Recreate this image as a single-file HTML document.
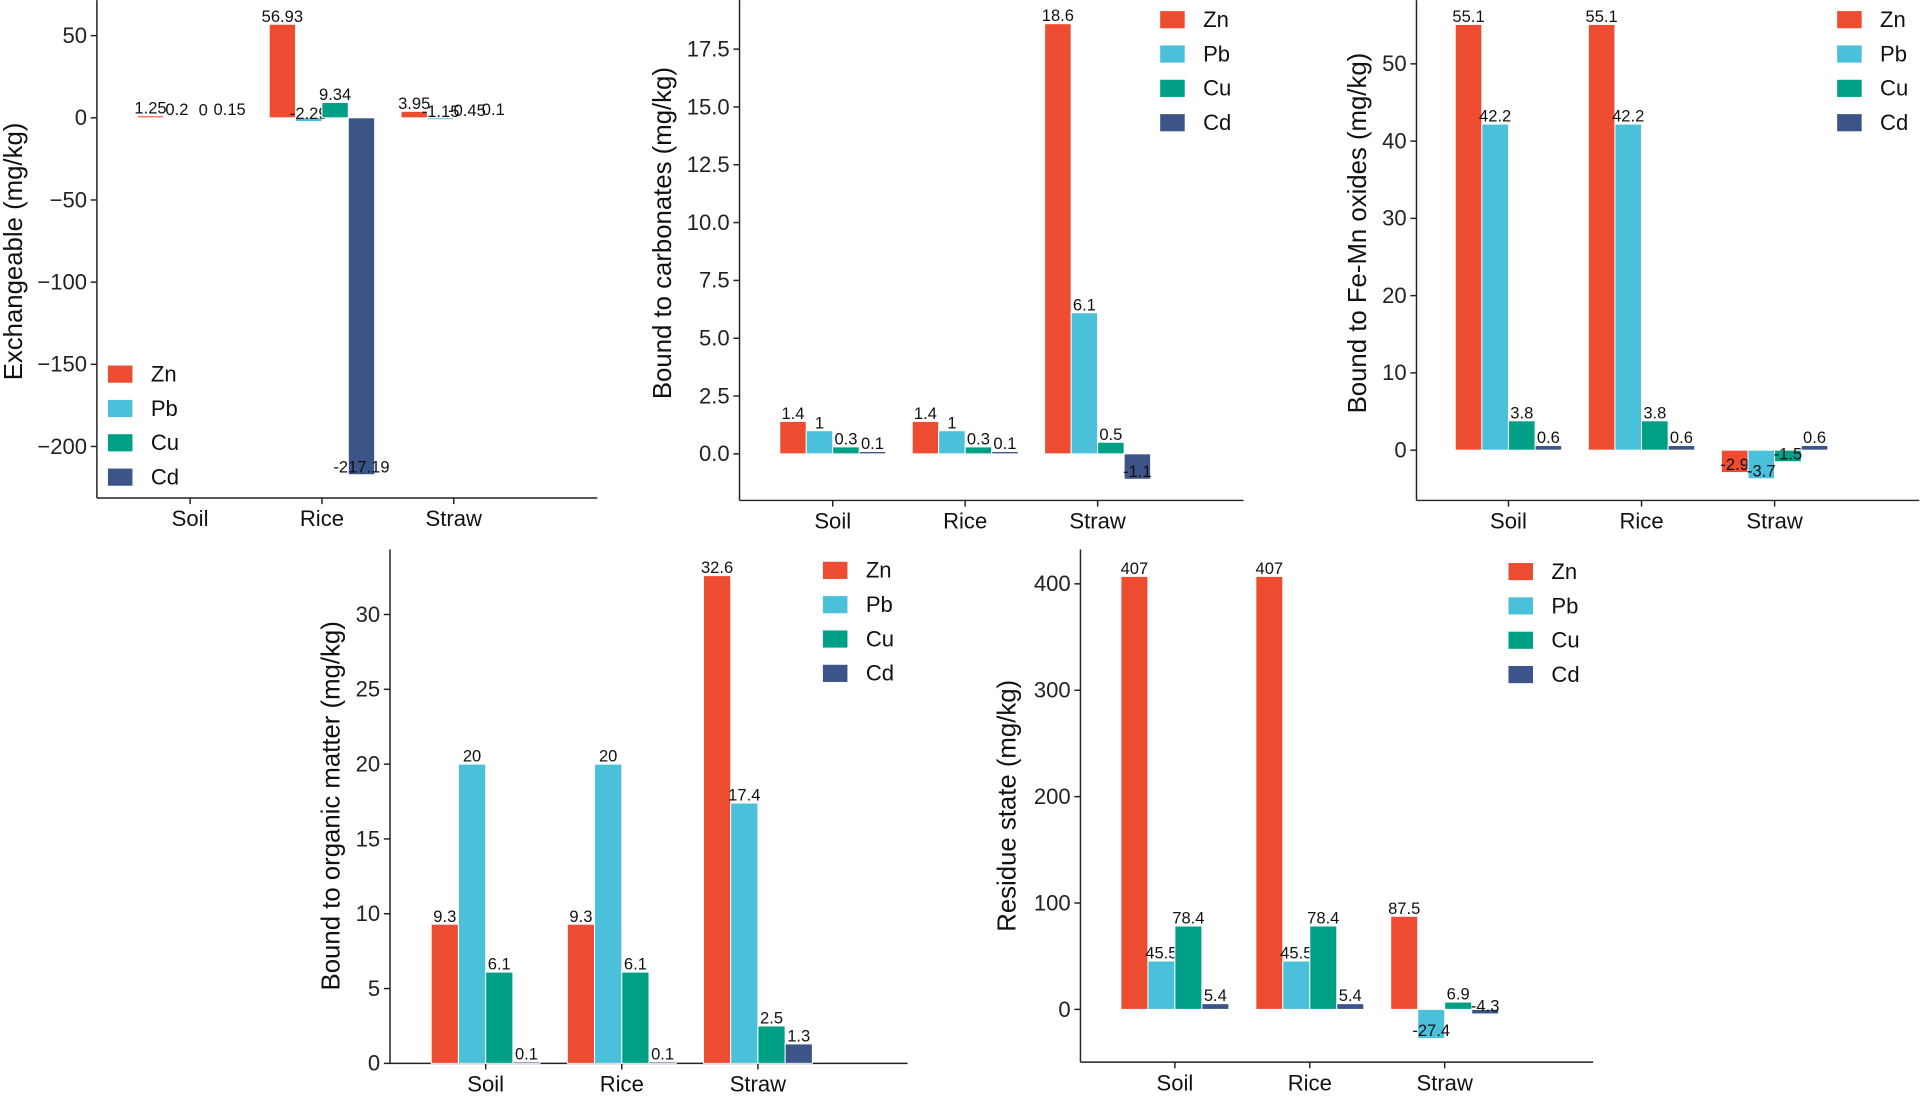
<!DOCTYPE html>
<html><head><meta charset="utf-8"><style>
html,body{margin:0;padding:0;background:#fff;}
svg{display:block;font-family:"Liberation Sans",Arial,sans-serif;}
</style></head>
<body>
<svg id="chart" width="1923" height="1099" viewBox="0 0 1568 896" xmlns="http://www.w3.org/2000/svg"></svg>
<script>
const categories = ["Soil", "Rice", "Straw"];
const seriesNames = ["Zn", "Pb", "Cu", "Cd"];
const colors = ["#EE4C30", "#4BC0DA", "#00A087", "#3C5488"];

// Panel A: Exchangeable
const exZn = [1.25, 56.93, 3.95];
const exPb = [0.2, -2.29, -1.15];
const exCu = [0, 9.34, -0.45];
const exCd = [0.15, -217.19, 0.1];
const exTicks = [50, 0, -50, -100, -150, -200];

// Panel B: Bound to carbonates
const caZn = [1.4, 1.4, 18.6];
const caPb = [1, 1, 6.1];
const caCu = [0.3, 0.3, 0.5];
const caCd = [0.1, 0.1, -1.1];
const caTicks = ["0.0", "2.5", "5.0", "7.5", "10.0", "12.5", "15.0", "17.5"];

// Panel C: Bound to Fe-Mn oxides
const feZn = [55.1, 55.1, -2.9];
const fePb = [42.2, 42.2, -3.7];
const feCu = [3.8, 3.8, -1.5];
const feCd = [0.6, 0.6, 0.6];
const feTicks = [0, 10, 20, 30, 40, 50];

// Panel D: Bound to organic matter
const omZn = [9.3, 9.3, 32.6];
const omPb = [20, 20, 17.4];
const omCu = [6.1, 6.1, 2.5];
const omCd = [0.1, 0.1, 1.3];
const omTicks = [0, 5, 10, 15, 20, 25, 30];

// Panel E: Residue state
const reZn = [407, 407, 87.5];
const rePb = [45.5, 45.5, -27.4];
const reCu = [78.4, 78.4, 6.9];
const reCd = [5.4, 5.4, -4.3];
const reTicks = [0, 100, 200, 300, 400];

const NS = "http://www.w3.org/2000/svg";
const svg = document.getElementById("chart");
function mk(tag, attrs, parent) {
  const e = document.createElementNS(NS, tag);
  for (const k in attrs) e.setAttribute(k, attrs[k]);
  (parent || svg).appendChild(e);
  return e;
}

function panel(cfg) {
  const g = mk("g", {});
  
  
  const k = (cfg.y0px - cfg.y1px) / (cfg.v1 - cfg.v0);
  const y = v => cfg.y0px - (v - cfg.v0) * k;
  const x = i => cfg.cat0 + i * cfg.step;
  const bw = cfg.step * 0.8 / 4;
  const ya = mk("line", {x1: cfg.ax, y1: cfg.top, x2: cfg.ax, y2: cfg.bottom, stroke: "#222", "stroke-width": 1.2}, g);
  
  
  const xa = mk("line", {x1: cfg.ax, y1: cfg.bottom, x2: cfg.right, y2: cfg.bottom, stroke: "#222", "stroke-width": 1.2}, g);
  
  
  cfg.ticks.forEach(t => {
    const v = parseFloat(t);
    const yy = y(v);
    const tl = mk("line", {x1: cfg.ax - 5, y1: yy, x2: cfg.ax, y2: yy, stroke: "#222", "stroke-width": 1.2}, g);
    
    
    const tx = mk("text", {x: cfg.ax - 8, y: yy + 6, "text-anchor": "end", "font-size": 18, fill: "#222"}, g);
    tx.textContent = (typeof t === "number" && t < 0) ? "\u2212" + Math.abs(t) : String(t);
    
    
  });
  categories.forEach((c, i) => {
    const tl = mk("line", {x1: x(i), y1: cfg.bottom, x2: x(i), y2: cfg.bottom + 5, stroke: "#222", "stroke-width": 1.2}, g);
    
    
    const tx = mk("text", {x: x(i), y: cfg.bottom + 23, "text-anchor": "middle", "font-size": 18, fill: "#111"}, g);
    tx.textContent = c;
    
    
  });
  cfg.series.forEach((vals, s) => {
    vals.forEach((v, i) => {
      const cx = x(i) + (s - 1.5) * bw;
      const y0 = y(0), yv = y(v);
      const r = mk("rect", {x: cx - bw / 2, y: Math.min(y0, yv), width: bw, height: Math.max(Math.abs(yv - y0), 0.5),
        fill: colors[s], stroke: "#fff", "stroke-width": 0.8}, g);
      
      
      const lb = mk("text", {x: cx, y: yv - 2, "text-anchor": "middle", "font-size": 13.5, fill: "#111"}, g);
      lb.textContent = String(v);
      
      
    });
  });
  const tt = mk("text", {x: 0, y: 0, "text-anchor": "middle", "font-size": 21, fill: "#111",
    transform: "translate(" + cfg.titleX + "," + cfg.titleY + ") rotate(-90)"}, g);
  tt.textContent = cfg.title;
  
  
  seriesNames.forEach((n, s) => {
    const ly = cfg.legY + s * 28;
    const r = mk("rect", {x: cfg.legX, y: ly - 7, width: 20, height: 14, fill: colors[s]}, g);
    
    
    const t = mk("text", {x: cfg.legX + 35, y: ly + 6, "font-size": 18, fill: "#111"}, g);
    t.textContent = n;
    
    
  });
}

panel({name: "panel-exchangeable", ax: 79, top: 0, bottom: 406, right: 487, v0: 0, y0px: 96, v1: 50, y1px: 29,
  cat0: 155, step: 107.5, ticks: exTicks, series: [exZn, exPb, exCu, exCd],
  title: "Exchangeable (mg/kg)", titleX: 18, titleY: 205, legX: 88, legY: 305});
panel({name: "panel-carbonates", ax: 603, top: 0, bottom: 408, right: 1014, v0: 0, y0px: 370, v1: 17.5, y1px: 40,
  cat0: 679, step: 108, ticks: caTicks, series: [caZn, caPb, caCu, caCd],
  title: "Bound to carbonates (mg/kg)", titleX: 547, titleY: 190, legX: 946, legY: 16});
panel({name: "panel-fe-mn-oxides", ax: 1155, top: 0, bottom: 408, right: 1565, v0: 0, y0px: 367, v1: 50, y1px: 52,
  cat0: 1230, step: 108.5, ticks: feTicks, series: [feZn, fePb, feCu, feCd],
  title: "Bound to Fe-Mn oxides (mg/kg)", titleX: 1114, titleY: 190, legX: 1498, legY: 16});
panel({name: "panel-organic-matter", ax: 318, top: 448, bottom: 867, right: 740, v0: 0, y0px: 867, v1: 30, y1px: 501,
  cat0: 396, step: 111, ticks: omTicks, series: [omZn, omPb, omCu, omCd],
  title: "Bound to organic matter (mg/kg)", titleX: 277, titleY: 657, legX: 671, legY: 465});
panel({name: "panel-residue", ax: 881, top: 448, bottom: 866, right: 1299, v0: 0, y0px: 823, v1: 400, y1px: 476,
  cat0: 958, step: 110, ticks: reTicks, series: [reZn, rePb, reCu, reCd],
  title: "Residue state (mg/kg)", titleX: 828, titleY: 657, legX: 1230, legY: 466});
</script>
</body></html>
